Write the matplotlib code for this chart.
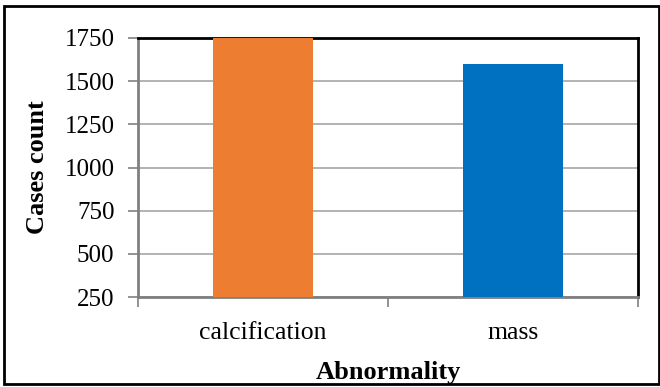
import matplotlib
matplotlib.use("Agg")
import matplotlib.pyplot as plt
from matplotlib.patches import Rectangle

categories = ["calcification", "mass"]
counts = [1750, 1600]
colors = ["#ED7D31", "#0070C0"]
yticks = [250, 500, 750, 1000, 1250, 1500, 1750]

plt.rcParams["font.family"] = ["Liberation Serif", "DejaVu Serif"]

fig = plt.figure(figsize=(6.6, 3.87), dpi=100)
ax = fig.add_axes([138 / 660, 1 - 297 / 387, 500 / 660, 259 / 387])

x = list(range(len(categories)))
ax.bar(x, counts, width=0.4, color=colors, zorder=3)
ax.set_xlim(-0.5, len(categories) - 0.5)
ax.set_ylim(250, 1750)
ax.set_yticks(yticks)
ax.set_yticklabels([str(t) for t in yticks], fontsize=18)
ax.yaxis.grid(True, color="#a6a6a6", linewidth=1.2, zorder=0)

# category ticks sit on the boundaries, labels in the middle
ax.set_xticks([-0.5, 0.5, 1.5])
ax.set_xticklabels([])
ax.set_xticks(x, minor=True)
ax.set_xticklabels(categories, minor=True, fontsize=18.5)
ax.tick_params(axis="x", which="minor", length=0, pad=18)
ax.tick_params(axis="x", which="major", length=7, color="#808080", width=1.2)
ax.tick_params(axis="y", length=7, color="#808080", width=1.2, pad=10)

for side in ["left", "bottom"]:
    ax.spines[side].set_color("#808080")
    ax.spines[side].set_linewidth(2)
for side in ["top", "right"]:
    ax.spines[side].set_color("black")
    ax.spines[side].set_linewidth(2)

ax.set_ylabel("Cases count", fontsize=19, fontweight="bold", labelpad=11)
ax.set_xlabel("Abnormality", fontsize=19, fontweight="bold", labelpad=12)

# outer chart border
fig.patches.append(Rectangle((4 / 660, 3 / 387), 655 / 660, 378 / 387,
                             transform=fig.transFigure, fill=False,
                             edgecolor="black", linewidth=2))

fig.savefig("out.png", dpi=100)
